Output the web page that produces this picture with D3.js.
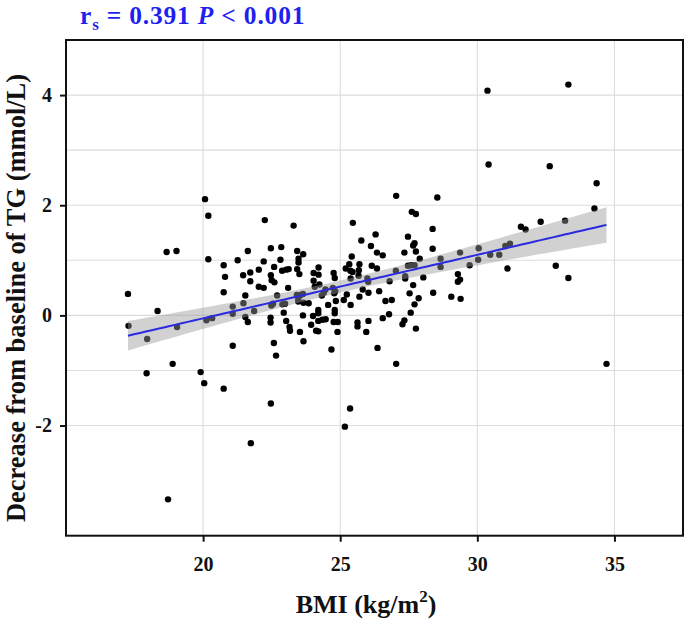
<!DOCTYPE html>
<html>
<head>
<meta charset="utf-8">
<script src="https://cdn.jsdelivr.net/npm/d3@7"></script>
<style>
  html, body { margin: 0; padding: 0; background: #fff; }
  svg { display: block; }
  text { font-family: "Liberation Serif", "Times New Roman", serif; font-weight: bold; }
</style>
</head>
<body>
<svg id="chart" width="685" height="623"></svg>
<script>
// ---- Data ----
const bmi = [17.26,17.28,17.96,18.34,19.05,17.94,18.89,19.91,20.04,20.75,18.72,21.74,22.47,25.17,25.36,18.67,19.03,20.07,20.19,22.25,
  23.30,25.46,30.37,33.32,30.41,32.64,34.35,34.27,33.20,32.31,31.59,31.76,27.04,28.54,27.61,27.76,34.71,27.04,32.86,33.32,
  31.10,30.47,30.80,31.02,31.19,30.05,30.03,29.72,29.37,29.29,29.37,29.29,29.05,29.39,28.66,28.66,28.37,28.37,28.39,28.03,
  27.47,27.71,27.66,27.76,27.34,27.90,27.47,27.59,27.71,27.37,27.37,27.66,27.53,27.86,27.71,27.57,27.34,27.27,27.76,27.03,
  26.80,26.29,25.77,26.12,26.34,26.55,25.42,25.33,25.20,25.37,25.70,25.68,25.38,26.15,26.34,25.99,26.02,25.67,26.78,26.55,
  26.65,26.88,26.42,26.03,25.82,25.70,26.03,25.95,25.63,25.63,25.38,25.13,25.24,24.84,24.80,24.80,24.76,24.91,24.90,24.68,
  26.36,24.82,24.73,24.78,24.56,24.40,24.46,24.33,24.07,24.24,24.01,24.20,24.20,24.20,24.12,24.20,24.35,24.47,23.94,23.64,
  23.85,23.42,23.47,23.47,23.56,23.64,23.53,23.15,23.17,23.03,22.94,22.89,22.99,22.49,22.55,22.46,22.46,22.70,23.66,22.58,
  22.66,21.08,21.08,21.08,20.75,21.54,21.47,21.54,21.63,21.86,20.12,20.33,22.03,22.21,23.10,20.75,20.80,21.46,21.72,21.72,
  22.03,22.47,22.50,22.60,22.59,22.88,23.03,23.12,23.43,23.51,24.03,24.21,24.21,24.03,24.76,24.80,20.19,21.26,22.21,22.82,
  21.63,22.47,22.85,23.43,23.65,23.48,23.48,23.66,25.45];
const tgDecrease = [0.39,-0.19,-0.43,0.08,-0.21,-1.05,-0.88,-1.03,-1.23,-1.33,-3.34,-2.32,-1.60,-2.02,-1.69,1.15,1.17,2.11,1.81,1.73,
  1.63,1.68,4.08,4.19,2.74,2.71,2.40,1.94,1.72,1.70,1.61,1.56,2.17,2.14,1.88,1.84,-0.88,-0.88,0.90,0.68,
  0.85,1.10,1.10,1.26,1.30,1.22,1.01,0.91,1.14,0.75,0.65,0.61,0.34,0.30,1.03,0.88,1.57,1.21,0.41,0.69,
  1.43,1.31,1.27,1.16,1.14,1.03,0.90,0.91,0.91,0.71,0.67,0.55,0.40,0.31,0.20,0.05,-0.09,-0.16,-0.24,0.81,
  0.62,1.47,1.36,1.26,1.14,1.09,1.07,0.93,0.85,0.81,0.93,0.82,0.67,0.90,0.85,0.67,0.61,0.72,0.02,-0.05,
  0.26,0.28,0.44,0.41,0.47,0.34,-0.10,-0.30,-0.13,-0.20,0.19,0.28,0.38,0.26,0.10,0.04,-0.12,-0.12,-0.30,-0.62,
  -0.59,0.44,0.50,0.40,0.19,0.41,0.47,0.36,0.52,0.56,-0.01,0.10,0.04,-0.10,-0.28,-0.29,-0.08,-0.07,-0.17,0.00,
  0.22,0.37,0.30,0.25,0.37,0.39,-0.30,-0.21,-0.28,-0.10,0.05,0.20,0.21,0.18,0.21,-0.04,-0.13,0.36,-0.47,-0.50,
  -0.73,-0.55,0.16,0.03,0.42,0.36,0.22,-0.03,-0.12,0.08,-0.09,-0.05,0.52,0.50,0.50,0.91,0.70,0.73,0.78,0.62,
  0.83,0.73,0.64,0.60,0.88,0.81,0.83,0.84,0.84,0.75,0.77,0.87,0.74,0.63,0.77,0.68,1.02,1.00,0.98,1.01,
  1.17,1.22,1.24,1.17,1.11,1.03,0.96,0.23,0.79];

const xTicks = [20, 25, 30, 35];
const yTicks = [-2, 0, 2, 4];
const yTickLabels = ["-2", "0", "2", "4"];
const yGridValues = [-2, -1, 0, 1, 2, 3, 4];
const xDomain = [15, 37.5];
const yDomain = [-4, 5];

const titleParts = { r: "r", sub: "s", mid: " = 0.391 ", p: "P", tail: " < 0.001" };
const xLabel = "BMI (kg/m";
const yLabel = "Decrease from baseline of TG (mmol/L)";

// ---- Layout ----
const svg = d3.select("#chart");
const pLeft = 66, pRight = 683, pTop = 40, pBottom = 535.7;

const x = d3.scaleLinear().domain(xDomain).range([pLeft, pRight]);
const y = d3.scaleLinear().domain(yDomain).range([pBottom, pTop]);

// grid
const grid = svg.append("g");
grid.selectAll("line.gx").data(xTicks).join("line")
  .attr("x1", d => x(d)).attr("x2", d => x(d))
  .attr("y1", pTop).attr("y2", pBottom)
  .attr("stroke", "#dcdcdc").attr("stroke-width", 1.1);
grid.selectAll("line.gy").data(yGridValues).join("line")
  .attr("x1", pLeft).attr("x2", pRight)
  .attr("y1", d => y(d)).attr("y2", d => y(d))
  .attr("stroke", "#dcdcdc").attr("stroke-width", 1.1);

// points
const pts = bmi.map((b, i) => ({ x: b, y: tgDecrease[i] }));
svg.append("g").selectAll("circle").data(pts).join("circle")
  .attr("cx", d => x(d.x)).attr("cy", d => y(d.y)).attr("r", 3.2)
  .attr("fill", "#000");

// linear fit with 95% CI (computed from the data)
const n = pts.length;
const mx = d3.mean(pts, d => d.x), my = d3.mean(pts, d => d.y);
const sxx = d3.sum(pts, d => (d.x - mx) ** 2);
const sxy = d3.sum(pts, d => (d.x - mx) * (d.y - my));
const slope = sxy / sxx, intercept = my - slope * mx;
const sse = d3.sum(pts, d => (d.y - (intercept + slope * d.x)) ** 2);
const s = Math.sqrt(sse / (n - 2));
const tq = 1.9716;
const [xmin, xmax] = d3.extent(pts, d => d.x);
const fitX = d3.range(0, 81).map(i => xmin + (xmax - xmin) * i / 80);
const fit = fitX.map(v => {
  const yh = intercept + slope * v;
  const se = s * Math.sqrt(1 / n + (v - mx) ** 2 / sxx);
  return { x: v, y: yh, lo: yh - tq * se, hi: yh + tq * se };
});

svg.append("path").datum(fit)
  .attr("d", d3.area().x(d => x(d.x)).y0(d => y(d.lo)).y1(d => y(d.hi)))
  .attr("fill", "#999999").attr("fill-opacity", 0.45);
svg.append("path").datum(fit)
  .attr("d", d3.line().x(d => x(d.x)).y(d => y(d.y)))
  .attr("fill", "none").attr("stroke", "#2a2ae0").attr("stroke-width", 2);

// panel border
svg.append("rect").attr("x", pLeft).attr("y", pTop)
  .attr("width", pRight - pLeft).attr("height", pBottom - pTop)
  .attr("fill", "none").attr("stroke", "#111").attr("stroke-width", 2);

// axes
const xAxis = d3.axisBottom(x).tickValues(xTicks).tickSize(6).tickPadding(15);
const yAxis = d3.axisLeft(y).tickValues(yTicks).tickSize(6).tickPadding(8)
  .tickFormat((d, i) => yTickLabels[i]);
const gx = svg.append("g").attr("transform", `translate(0,${pBottom})`).call(xAxis);
const gy = svg.append("g").attr("transform", `translate(${pLeft},0)`).call(yAxis);
[gx, gy].forEach(g => {
  g.select(".domain").remove();
  g.selectAll(".tick line").attr("stroke", "#111").attr("stroke-width", 2);
  g.selectAll(".tick text").attr("fill", "#111")
    .style("font-family", "'Liberation Serif', serif").style("font-weight", "bold").style("font-size", "20px");
});

// axis titles
const xt = svg.append("text").attr("x", 366).attr("y", 613)
  .attr("text-anchor", "middle").attr("font-size", 26).attr("fill", "#111");
xt.append("tspan").text(xLabel);
xt.append("tspan").attr("dy", -11).attr("font-size", 17).text("2");
xt.append("tspan").attr("dy", 11).text(")");

svg.append("text")
  .attr("transform", `translate(25,298) rotate(-90)`)
  .attr("text-anchor", "middle").attr("font-size", 26.5).attr("fill", "#111")
  .text(yLabel);

// title
const tt = svg.append("text").attr("x", 80).attr("y", 23.5).attr("font-size", 25.5)
  .attr("letter-spacing", 0.8).attr("fill", "#1f1ff0");
tt.append("tspan").text(titleParts.r);
tt.append("tspan").attr("dy", 6).attr("font-size", 17).text(titleParts.sub);
tt.append("tspan").attr("dy", -6).text(titleParts.mid);
tt.append("tspan").attr("font-style", "italic").text(titleParts.p);
tt.append("tspan").text(titleParts.tail);
</script>
</body>
</html>
